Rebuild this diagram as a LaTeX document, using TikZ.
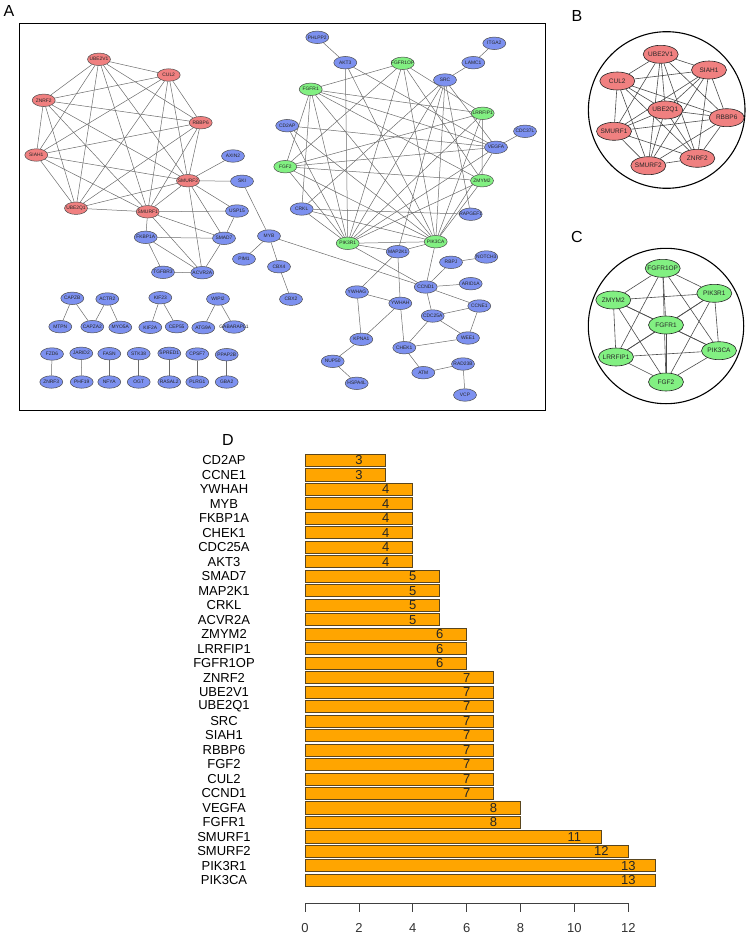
\documentclass[tikz,border=0pt]{standalone}
\usepackage{fontspec}
\setmainfont{Liberation Sans}
\usetikzlibrary{shapes.geometric}
\pgfdeclarelayer{edges}
\pgfsetlayers{edges,main}
\definecolor{nred}{RGB}{240,128,128}
\definecolor{nblue}{RGB}{125,145,240}
\definecolor{ngreen}{RGB}{130,240,130}
\definecolor{barorange}{RGB}{255,165,0}
\definecolor{barborder}{RGB}{90,70,30}
\tikzset{
  anode/.style={ellipse, draw=black!70, line width=0.5pt, minimum width=23pt, minimum height=12.5pt, inner sep=0pt},
  alab/.style={font=\fontsize{4.9}{5}\selectfont, text=black!85, inner sep=0pt},
  aedge/.style={draw=black!58, line width=0.5pt},
  bnode/.style={ellipse, draw=black!85, line width=0.6pt, minimum width=35pt, minimum height=18pt, inner sep=0pt},
  blab/.style={font=\fontsize{6.5}{7}\selectfont, text=black!85, inner sep=0pt},
  bedge/.style={draw=black!70, line width=0.6pt},
  ring/.style={draw=black, line width=1.1pt},
  panel/.style={font=\fontsize{16}{18}\selectfont, inner sep=0pt},
  barbox/.style={fill=barorange, draw=barborder, line width=0.7pt},
  barname/.style={font=\fontsize{13}{14}\selectfont, inner sep=0pt},
  barnum/.style={font=\fontsize{13}{14}\selectfont, text=black!85, inner sep=0pt},
  axisline/.style={draw=black!75, line width=0.7pt},
  ticklab/.style={font=\fontsize{13}{14}\selectfont, text=black!80, inner sep=0pt, anchor=base}
}
\newcommand\mkA[3]{\node[anode, fill=#2, label={[alab]center:#1}] (a#1) at (#3) {};}
\newcommand\mkB[3]{\node[bnode, fill=#2, label={[blab]center:#1}] (#1) at (#3) {};}
\begin{document}
\begin{tikzpicture}[x=1pt, y=-1pt]
\useasboundingbox (0,0) rectangle (750,934);

% ---------- Panel A ----------
\node[panel] (labA) at (9,11) {A};
\draw[line width=0.9pt] (19.7,23.3) rectangle (545,410.7);

\foreach \n/\x/\y in {UBE2V1/99/59.3, CUL2/168.7/75, ZNRF2/43.7/100.3, RBBP6/200.7/122.7,
  SIAH1/36.3/155, SMURF2/188/180.7, UBE2Q1/76/208.2, SMURF1/147.7/211.8}
  {\mkA{\n}{nred}{\x,\y}}

\foreach \n/\x/\y in {FGFR1OP/402.7/63.3, FGFR1/310.7/89.3, LRRFIP1/482.7/113.3, FGF2/285.3/166.7,
  ZMYM2/482/180.7, PIK3R1/347.7/243.3, PIK3CA/435.7/241.7}
  {\mkA{\n}{ngreen}{\x,\y}}

\foreach \n/\x/\y in {AXIN2/233/156, SKI/242/181.3, USP15/237/211, FKBP1A/145.7/237.3,
  SMAD7/224/238.3, MYB/269/236, PIM1/244/259, CBX4/279/266.7, TGFBR3/163/272.3,
  ACVR2A/202.3/272.7, CBX2/291/299.2, CAPZB/72.3/298.3, ACTR2/107.3/299, KIF23/160.3/297.7,
  WIPI2/218/299, MTPN/60.3/326.7, CAPZA2/92.3/326.7, MYO5A/120.3/327.3, KIF2A/150.3/327.3,
  CEP55/176.7/326.7, ATG9A/203.3/327.7, GABARAPL1/234/327, FZD6/52/354, JARID2/81.3/353.3,
  FASN/109.3/353.7, STK38/138.7/353.7, SPRED1/169.3/353.3, CPSF7/197.3/354, PPAP2B/226.7/354.7,
  ZNRF3/51.3/382, PHF19/81.7/382, NFYA/109.3/382, OGT/138.7/382, RASAL2/169.3/382,
  PLRG1/197.3/382, GBA2/226.7/382, PHLPP2/317.3/37.3, ITGA2/494.3/43.3, AKT3/345.3/62.7,
  LAMC1/473.3/62.7, SRC/445/80, CD2AP/287.2/125.7, CDC37L/525/131.3, VEGFA/496/147.3,
  CRKL/301.7/209, RAPGEF1/470.7/214.2, MAP2K1/397.7/251.7, RBPJ/451/262.3, NOTCH3/486.3/257,
  CCND1/425.7/287, ARID1A/470.7/283.7, YWHAG/357/292, YWHAH/400.3/303.3, CCNE1/479.3/306,
  CDC25A/432.7/316, KPNA1/361.3/339.3, WEE1/468/338, CHEK1/404.3/347.7, NUP50/332.7/361.3,
  RAD23B/463/364, ATM/423.3/372.7, HSPA4L/356.7/383.3, VCP/465/395}
  {\mkA{\n}{nblue}{\x,\y}}

\begin{pgfonlayer}{edges}
\foreach \p [count=\i] in {UBE2V1,CUL2,ZNRF2,RBBP6,SIAH1,SMURF2,UBE2Q1,SMURF1}{
  \foreach \q [count=\j] in {UBE2V1,CUL2,ZNRF2,RBBP6,SIAH1,SMURF2,UBE2Q1,SMURF1}{
    \ifnum\i<\j \draw[aedge] (a\p) -- (a\q); \fi
  }
}
\foreach \p [count=\i] in {FGFR1OP,FGFR1,FGF2,LRRFIP1,ZMYM2,PIK3R1,PIK3CA}{
  \foreach \q [count=\j] in {FGFR1OP,FGFR1,FGF2,LRRFIP1,ZMYM2,PIK3R1,PIK3CA}{
    \ifnum\i<\j \draw[aedge] (a\p) -- (a\q); \fi
  }
}
\foreach \u/\v in {SMURF2/AXIN2, SMURF2/SKI, SMURF2/USP15, SMURF2/SMAD7, SMURF2/ACVR2A,
  SMURF1/USP15, SMURF1/FKBP1A, SMURF1/SMAD7, SMURF1/ACVR2A,
  SMAD7/USP15, SMAD7/FKBP1A, SMAD7/ACVR2A, ACVR2A/TGFBR3, ACVR2A/FKBP1A, FKBP1A/TGFBR3,
  SKI/MYB, MYB/PIM1, MYB/CBX4, MYB/CCND1, CBX4/CBX2,
  PHLPP2/AKT3, AKT3/PIK3R1, AKT3/PIK3CA, AKT3/VEGFA, LAMC1/ITGA2, LAMC1/SRC,
  SRC/PIK3R1, SRC/PIK3CA, SRC/VEGFA, SRC/MAP2K1, SRC/CRKL, SRC/RAPGEF1,
  VEGFA/CDC37L, VEGFA/PIK3R1, VEGFA/PIK3CA, VEGFA/FGFR1, VEGFA/FGF2, VEGFA/CD2AP,
  CD2AP/PIK3R1, CD2AP/PIK3CA, CRKL/RAPGEF1, CRKL/PIK3R1, CRKL/PIK3CA, CRKL/FGFR1,
  MAP2K1/PIK3R1, MAP2K1/PIK3CA, MAP2K1/YWHAG, MAP2K1/YWHAH,
  CCND1/PIK3R1, CCND1/PIK3CA, CCND1/RBPJ, CCND1/ARID1A, CCND1/CCNE1, CCND1/CDC25A,
  RBPJ/NOTCH3, YWHAG/YWHAH, YWHAG/KPNA1, YWHAH/KPNA1, YWHAH/CHEK1, KPNA1/NUP50,
  NUP50/HSPA4L, CHEK1/CDC25A, CHEK1/WEE1, CHEK1/ATM, CDC25A/WEE1, CDC25A/CCNE1,
  CCNE1/WEE1, ATM/RAD23B, RAD23B/VCP,
  CAPZB/MTPN, CAPZB/CAPZA2, ACTR2/CAPZA2, ACTR2/MYO5A, KIF23/KIF2A, KIF23/CEP55,
  WIPI2/ATG9A, WIPI2/GABARAPL1, FZD6/ZNRF3, JARID2/PHF19, FASN/NFYA, STK38/OGT,
  SPRED1/RASAL2, CPSF7/PLRG1, PPAP2B/GBA2}
  {\draw[aedge] (a\u) -- (a\v);}
\end{pgfonlayer}

% ---------- Panel B ----------
\node[panel] (labB) at (577,16) {B};
\draw[ring] (666.7,110) circle[radius=78.3pt];
\foreach \n/\x/\y in {UBE2V1/660.7/54.3, SIAH1/709/70, CUL2/617.3/81, UBE2Q1/665.3/110,
  RBBP6/726.7/117.7, SMURF1/614/131.3, ZNRF2/697.3/158.3, SMURF2/648.3/165.7}
  {\mkB{\n}{nred}{\x,\y}}
\begin{pgfonlayer}{edges}
\foreach \p [count=\i] in {UBE2V1,SIAH1,CUL2,UBE2Q1,RBBP6,SMURF1,ZNRF2,SMURF2}{
  \foreach \q [count=\j] in {UBE2V1,SIAH1,CUL2,UBE2Q1,RBBP6,SMURF1,ZNRF2,SMURF2}{
    \ifnum\i<\j \draw[bedge] (\p) -- (\q); \fi
  }
}
\end{pgfonlayer}

% ---------- Panel C ----------
\node[panel] (labC) at (577,237) {C};
\draw[ring] (666,326) circle[radius=77.7pt];
\foreach \n/\x/\y in {FGFR1OP/662.7/268.3, PIK3R1/714.3/293.3, ZMYM2/613.3/300, FGFR1/666/325,
  PIK3CA/719/350.7, LRRFIP1/616/357, FGF2/666/382}
  {\node[bnode, fill=ngreen, label={[blab]center:\n}] (c\n) at (\x,\y) {};}
\begin{pgfonlayer}{edges}
\foreach \p [count=\i] in {FGFR1OP,PIK3R1,ZMYM2,FGFR1,PIK3CA,LRRFIP1,FGF2}{
  \foreach \q [count=\j] in {FGFR1OP,PIK3R1,ZMYM2,FGFR1,PIK3CA,LRRFIP1,FGF2}{
    \ifnum\i<\j \draw[bedge] (c\p) -- (c\q); \fi
  }
}
\end{pgfonlayer}

% ---------- Panel D ----------
\node[panel] (labD) at (228,440) {D};
\foreach \nm/\v [count=\i from 0] in {CD2AP/3, CCNE1/3, YWHAH/4, MYB/4, FKBP1A/4, CHEK1/4,
  CDC25A/4, AKT3/4, SMAD7/5, MAP2K1/5, CRKL/5, ACVR2A/5, ZMYM2/6, LRRFIP1/6, FGFR1OP/6,
  ZNRF2/7, UBE2V1/7, UBE2Q1/7, SRC/7, SIAH1/7, RBBP6/7, FGF2/7, CUL2/7, CCND1/7,
  VEGFA/8, FGFR1/8, SMURF1/11, SMURF2/12, PIK3R1/13, PIK3CA/13}{
  \pgfmathsetmacro\yt{454.3+14.48*\i}
  \pgfmathsetmacro\yb{\yt+12.07}
  \pgfmathsetmacro\ym{\yt+6.03}
  \pgfmathsetmacro\xr{305+26.94*\v}
  \pgfmathsetmacro\xn{305+26.94*(\v-1)}
  \draw[barbox] (305,\yt) rectangle (\xr,\yb);
  \node[barname] (bn\i) at (224,\ym) {\nm};
  \node[barnum] (bv\i) at (\xn,\ym) {\v};
}
\coordinate (ax0) at (305,903.3);
\coordinate (ax12) at (628.3,903.3);
\draw[axisline] (ax0) -- (ax12);
\foreach \t in {0,2,...,12}{
  \pgfmathsetmacro\xt{305+26.94*\t}
  \coordinate (tk\t) at (\xt,903.3);
  \draw[axisline] (tk\t) -- ++(0,8.4);
  \node[ticklab] (tl\t) at (\xt,932.6) {\t};
}
\end{tikzpicture}
\end{document}
